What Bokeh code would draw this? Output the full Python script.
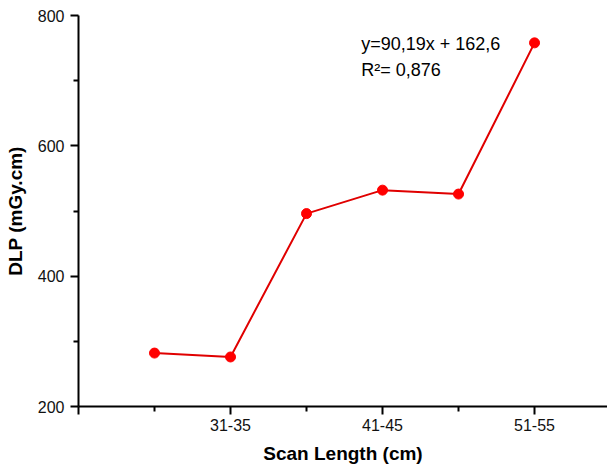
from bokeh.plotting import figure
from bokeh.models import Range1d, FixedTicker, Label
from bokeh.embed import file_html
from bokeh.resources import INLINE

# Data
scan_lengths = ["26-30", "31-35", "36-40", "41-45", "46-50", "51-55"]
dlp_values = [282, 276, 496, 532, 526, 758]
x_pos = list(range(1, len(scan_lengths) + 1))
y_ticks = [200, 400, 600, 800]
y_minor = [300, 500, 700]
shown_labels = {2: "31-35", 4: "41-45", 6: "51-55"}
fit_text = "y=90,19x + 162,6"
r2_text = "R\u00b2= 0,876"

FONT = "Liberation Sans"

p = figure(width=607, height=468, output_backend="svg", toolbar_location=None,
           x_range=Range1d(0, 6.96), y_range=Range1d(200, 800),
           min_border_left=78, min_border_right=0, min_border_top=15, min_border_bottom=62)
p.outline_line_color = None
p.xgrid.visible = False
p.ygrid.visible = False

p.line(x_pos, dlp_values, line_color="#E00000", line_width=2)
p.scatter(x_pos, dlp_values, size=10, fill_color="#FF0000", line_color="#FF0000")

# x axis
p.xaxis.ticker = FixedTicker(ticks=[0, 2, 4, 6], minor_ticks=[1, 3, 5])
p.xaxis.major_label_overrides = {0: "", **{k: v for k, v in shown_labels.items()}}
p.xaxis.axis_label = "Scan Length (cm)"
# y axis
p.yaxis.ticker = FixedTicker(ticks=y_ticks, minor_ticks=y_minor)
p.yaxis.axis_label = "DLP (mGy.cm)"

for ax in (p.xaxis[0], p.yaxis[0]):
    ax.axis_line_color = "black"
    ax.axis_line_width = 2
    ax.major_tick_line_color = "black"
    ax.major_tick_line_width = 2
    ax.minor_tick_line_color = "black"
    ax.minor_tick_line_width = 2
    ax.major_tick_in = 0
    ax.major_tick_out = 8
    ax.minor_tick_in = 0
    ax.minor_tick_out = 5
    ax.major_label_text_font = FONT
    ax.major_label_text_font_size = "16px"
    ax.major_label_text_color = "#111111"
    ax.axis_label_text_font = FONT
    ax.axis_label_text_font_size = "19px"
    ax.axis_label_text_font_style = "bold"
    ax.axis_label_text_color = "black"

p.xaxis.major_label_standoff = 4
p.xaxis.axis_label_standoff = 9
p.yaxis.major_label_standoff = 6
p.yaxis.axis_label_standoff = 9

p.add_layout(Label(x=3.72, y=757, text=fit_text, text_font=FONT, text_font_size="18px",
                   text_color="black", text_baseline="alphabetic"))
p.add_layout(Label(x=3.72, y=716, text=r2_text, text_font=FONT, text_font_size="18px",
                   text_color="black", text_baseline="alphabetic"))

open("out.html", "w").write(file_html(p, INLINE))
